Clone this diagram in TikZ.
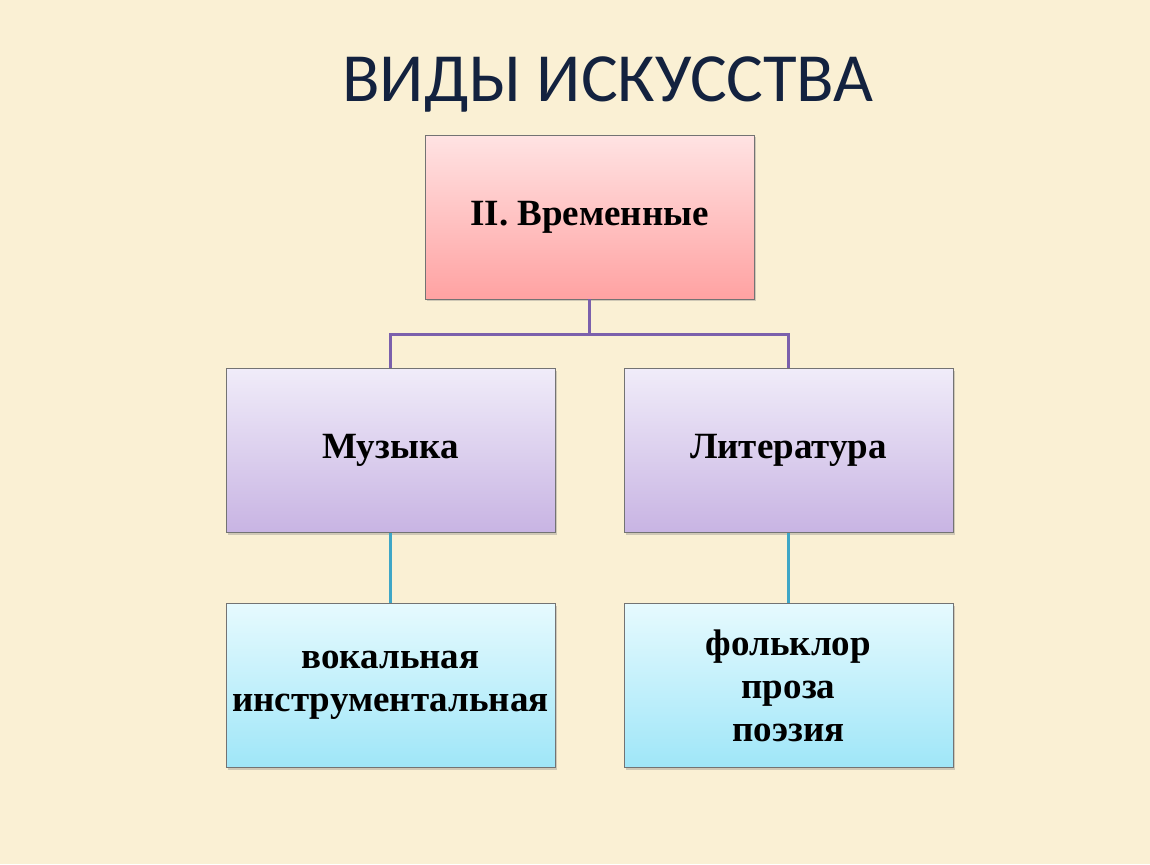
\documentclass[tikz,border=0pt]{standalone}
\usepackage{fontspec}
\setmainfont{Liberation Serif}
\newfontfamily\titlefont{Carlito}
\usetikzlibrary{positioning, shadows}
\definecolor{cream}{HTML}{FAF0D4}
\definecolor{navy}{HTML}{13223F}
\definecolor{pinktop}{HTML}{FFE3E3}
\definecolor{pinkbot}{HTML}{FFA2A2}
\definecolor{liltop}{HTML}{F0ECF9}
\definecolor{lilbot}{HTML}{C8B4E3}
\definecolor{cyantop}{HTML}{E6FAFE}
\definecolor{cyanbot}{HTML}{9FE6F8}
\definecolor{violetline}{HTML}{7B60AC}
\definecolor{tealline}{HTML}{3EA6C6}
\tikzstyle{box} = [rectangle, minimum width=329pt, minimum height=164pt, text centered, align=center, draw=black!55, line width=0.8pt, font=\fontsize{37}{43}\selectfont\bfseries, drop shadow={shadow xshift=2pt, shadow yshift=-2pt, opacity=0.35}]
\tikzstyle{pinkbox} = [box, top color=pinktop, bottom color=pinkbot]
\tikzstyle{lilacbox} = [box, top color=liltop, bottom color=lilbot]
\tikzstyle{cyanbox} = [box, top color=cyantop, bottom color=cyanbot]
\tikzstyle{violink} = [line width=3pt, draw=violetline]
\tikzstyle{teallink} = [line width=3pt, draw=tealline]

\begin{document}
\begin{tikzpicture}[x=1pt, y=-1pt]
\fill [cream] (0,0) rectangle (1150,864);
\node (title) [anchor=base, text=navy, font=\titlefont\fontsize{69}{72}\selectfont] at (608,102) {ВИДЫ ИСКУССТВА};

\node (vrem) [pinkbox] at (589.5,217) {II. Временные};
\node (muz) [lilacbox, below=69pt of vrem, xshift=-199pt] {Музыка};
\node (lit) [lilacbox, below=69pt of vrem, xshift=199pt] {Литература};
\node (vok) [cyanbox, below=70pt of muz] {вокальная\\инструментальная};
\node (folk) [cyanbox, below=70pt of lit] {фольклор\\проза\\поэзия};

\draw [violink] (vrem.south) -- ++(0,35) -| (muz.north);
\draw [violink] (vrem.south) -- ++(0,35) -| (lit.north);
\draw [teallink] (muz) -- (vok);
\draw [teallink] (lit) -- (folk);
\end{tikzpicture}
\end{document}
